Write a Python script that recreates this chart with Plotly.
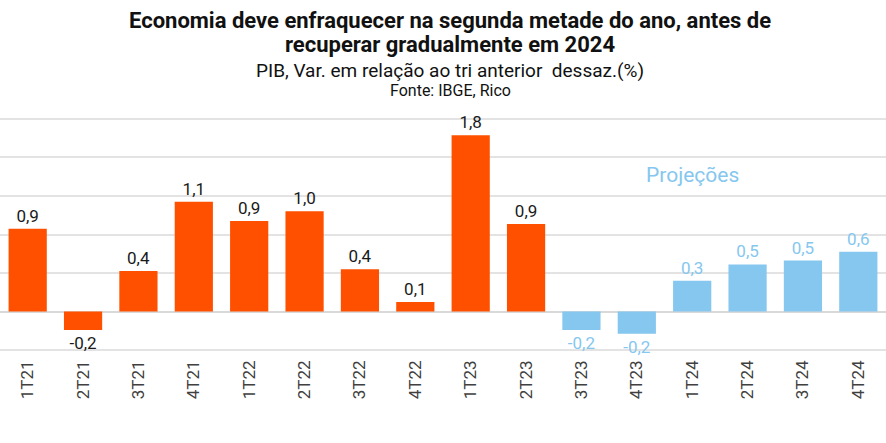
import plotly.graph_objects as go

categories = ["1T21", "2T21", "3T21", "4T21", "1T22", "2T22", "3T22", "4T22",
              "1T23", "2T23", "3T23", "4T23", "1T24", "2T24", "3T24", "4T24"]
values = [0.86, -0.19, 0.42, 1.14, 0.94, 1.04, 0.44, 0.10,
          1.83, 0.91, -0.19, -0.23, 0.32, 0.49, 0.53, 0.62]
is_projection = [False] * 10 + [True] * 6

ORANGE = "#FF5000"
BLUE = "#85C7EF"

bar_colors = [BLUE if p else ORANGE for p in is_projection]
text_colors = [BLUE if p else "#1a1a1a" for p in is_projection]

W, H = 886, 443
y_lo, y_hi = -0.44, 2.04
px_per_unit = 96.5
zero_px = 312.0
top_px = zero_px - y_hi * px_per_unit
bot_px = zero_px - y_lo * px_per_unit
ph = bot_px - top_px
CX = 450 / W


def py(y_px):
    return (bot_px - y_px) / ph


fig = go.Figure(go.Bar(
    x=categories, y=values,
    marker=dict(color=bar_colors, line=dict(width=0)),
    texttemplate="%{y:.1f}", textposition="outside",
    textfont=dict(family="Roboto", size=17, color=text_colors),
    cliponaxis=False, hoverinfo="skip",
))

fig.update_layout(
    width=W, height=H,
    margin=dict(l=0, r=0, t=top_px, b=H - bot_px, pad=0),
    paper_bgcolor="white", plot_bgcolor="white",
    separators=",.",
    showlegend=False,
    bargap=0.31,
    font=dict(family="Roboto", color="#404040"),
    xaxis=dict(tickangle=-90, tickfont=dict(size=17, color="#404040"),
               showgrid=False, ticks="", showline=False, automargin=False,
               ticklabelstandoff=2),
    yaxis=dict(range=[y_lo, y_hi], dtick=0.4, tick0=0, showticklabels=False,
               gridcolor="#E3E3E3", gridwidth=1.5, zeroline=True,
               zerolinecolor="#D9D9D9", zerolinewidth=1.5, automargin=False),
    annotations=[
        dict(text="<b>Economia deve enfraquecer na segunda metade do ano, antes de</b>",
             x=CX, y=py(20.5), xref="paper", yref="paper", showarrow=False,
             font=dict(size=22, color="#111111"), xanchor="center", yanchor="middle"),
        dict(text="<b>recuperar gradualmente em 2024</b>",
             x=CX, y=py(45), xref="paper", yref="paper", showarrow=False,
             font=dict(size=22, color="#111111"), xanchor="center", yanchor="middle"),
        dict(text="PIB, Var. em relação ao tri anterior  dessaz.(%)",
             x=CX, y=py(71), xref="paper", yref="paper", showarrow=False,
             font=dict(size=19, color="#111111"), xanchor="center", yanchor="middle"),
        dict(text="Fonte: IBGE, Rico",
             x=CX, y=py(91), xref="paper", yref="paper", showarrow=False,
             font=dict(size=16, color="#111111"), xanchor="center", yanchor="middle"),
        dict(text="Projeções", x=692.7 / W, y=py(175), xref="paper", yref="paper",
             showarrow=False, font=dict(size=21, color=BLUE),
             xanchor="center", yanchor="middle"),
    ],
)

fig.write_html("out.html", config={"displayModeBar": False},
               post_script="document.body.style.margin='0';")
